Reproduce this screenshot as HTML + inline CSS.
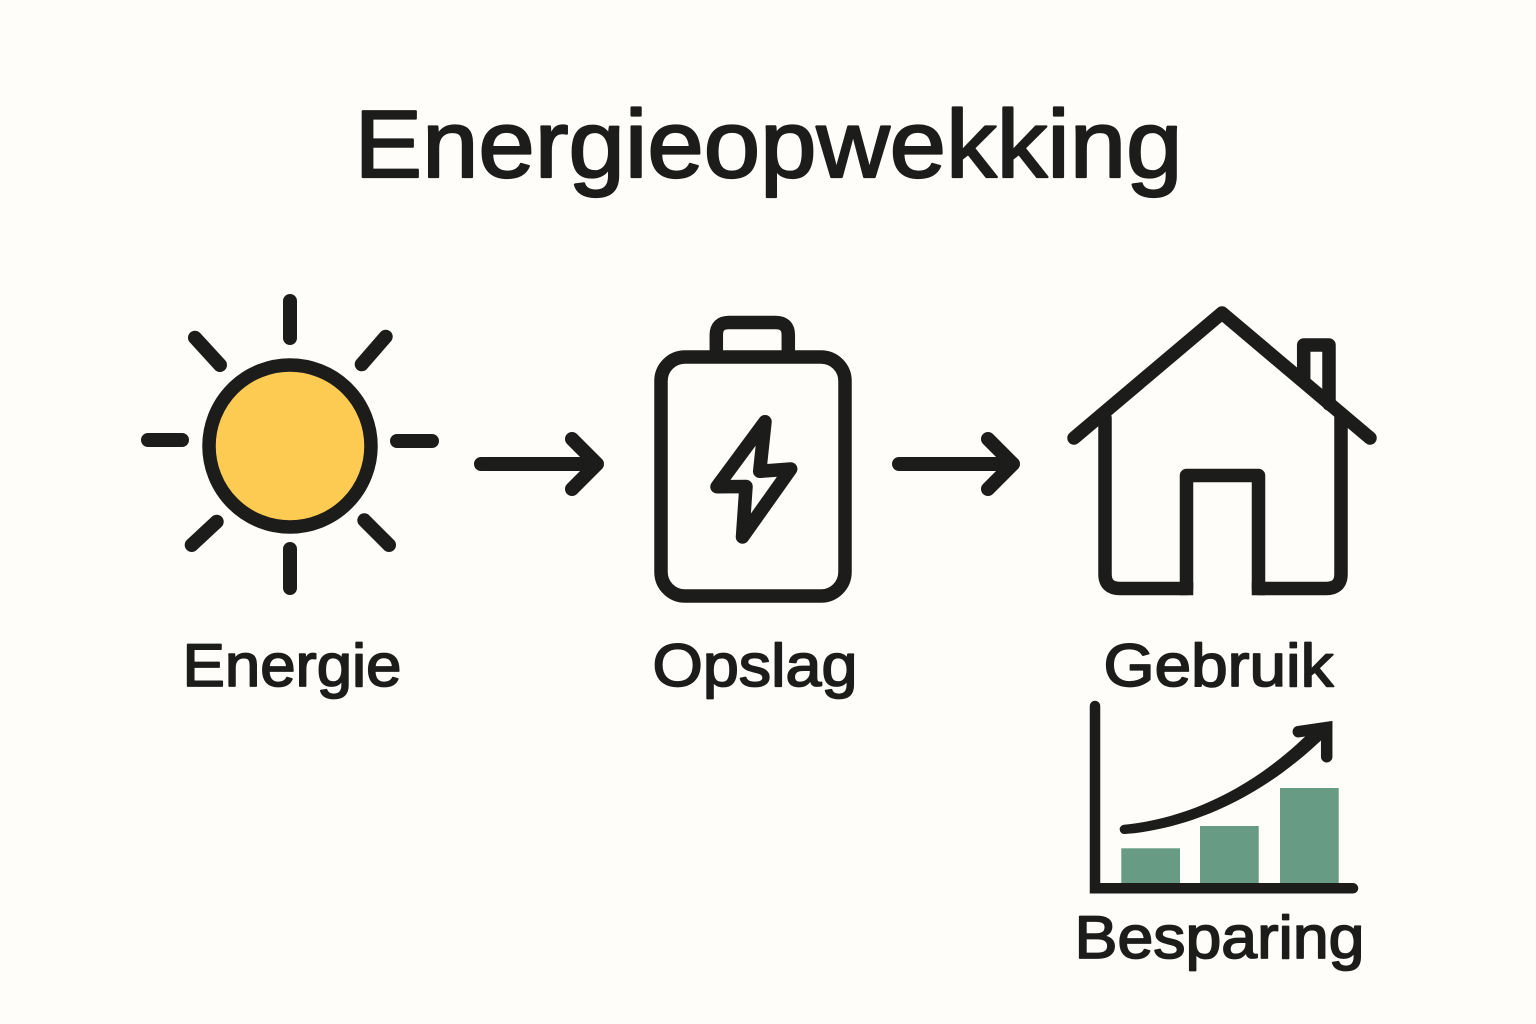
<!DOCTYPE html>
<html><head><meta charset="utf-8"><style>
html,body{margin:0;padding:0;background:#fefdf9}
svg{display:block}
text{font-family:"Liberation Sans",sans-serif;fill:#1c1c1b;stroke:#1c1c1b;text-anchor:middle;stroke-linejoin:round}
.l{fill:none;stroke:#1c1c1b;stroke-linecap:round;stroke-linejoin:round}
</style></head><body>
<svg width="1536" height="1024" viewBox="0 0 1536 1024" xmlns="http://www.w3.org/2000/svg">
<rect width="1536" height="1024" fill="#fefdf9"/>
<text x="768.5" y="177" font-size="96" stroke-width="2.2" textLength="828" lengthAdjust="spacingAndGlyphs">Energieopwekking</text>

<circle cx="290" cy="446" r="81" fill="#fdca52" stroke="#1c1c1b" stroke-width="13.500"/>
<path class="l" style="stroke-width:14" d="M290 301V338M290 549V588M148 440H182M397 441H432M195 337.700L220 365M385.700 336.700L361.700 364.300M216.700 521.700L191.700 545M364.300 520.300L389 545"/>

<path class="l" style="stroke-width:14" d="M481 464H596M572 439L597 464L572 489"/>

<rect x="661" y="357" width="184" height="239" rx="24" class="l" style="stroke-width:13.500"/>
<path class="l" style="stroke-width:13.500" d="M716.300 354V335Q716.300 322.500 729 322.500H775.500Q788.300 322.500 788.300 335V354"/>
<path class="l" style="stroke-width:13.500" d="M765 421.700L717 486.700L746 486.500L742.500 537L790.700 469L759.700 471.300Z"/>

<path class="l" style="stroke-width:14" d="M899 464H1012M988 439L1013 464L988 489"/>

<path class="l" style="stroke-width:13.500" d="M1074 438L1222 313L1370 438"/>
<path class="l" style="stroke-width:13.500" d="M1105 418V574Q1105 588.500 1120 588.500H1186.500V475.500H1258.500V588.500H1326Q1341 588.500 1341 574V414"/>
<rect x="1179.750" y="582" width="13.500" height="13.250" fill="#1c1c1b"/>
<rect x="1251.750" y="582" width="13.500" height="13.250" fill="#1c1c1b"/>
<path class="l" style="stroke-width:13.500" d="M1303.700 380V345H1329V404"/>

<rect x="1121.300" y="848.300" width="58.700" height="36" fill="#689b83"/>
<rect x="1200" y="826" width="58.700" height="58.300" fill="#689b83"/>
<rect x="1280" y="788" width="58.700" height="96.300" fill="#689b83"/>
<path class="l" style="stroke-width:10.500;stroke-linejoin:miter" d="M1095 706V888.300H1353"/>
<path fill="#1c1c1b" d="M1123.900 824.800C1172.900 820 1247 798 1318.300 723.400L1328.300 733.200C1253 808.500 1173.700 830.500 1124.700 834A4.600 4.600 0 0 1 1123.900 824.800Z"/>
<path class="l" style="stroke-width:11.500;stroke-linejoin:miter" d="M1298.300 731.700L1326.700 727.500L1326.700 756.700"/>

<text x="292" y="686" font-size="60" stroke-width="1.700" textLength="219" lengthAdjust="spacingAndGlyphs">Energie</text>
<text x="755" y="686" font-size="60" stroke-width="1.700" textLength="205" lengthAdjust="spacingAndGlyphs">Opslag</text>
<text x="1218.500" y="686" font-size="60" stroke-width="1.700" textLength="230" lengthAdjust="spacingAndGlyphs">Gebruik</text>
<text x="1219.500" y="958" font-size="60" stroke-width="1.700" textLength="290" lengthAdjust="spacingAndGlyphs">Besparing</text>
</svg>
</body></html>
